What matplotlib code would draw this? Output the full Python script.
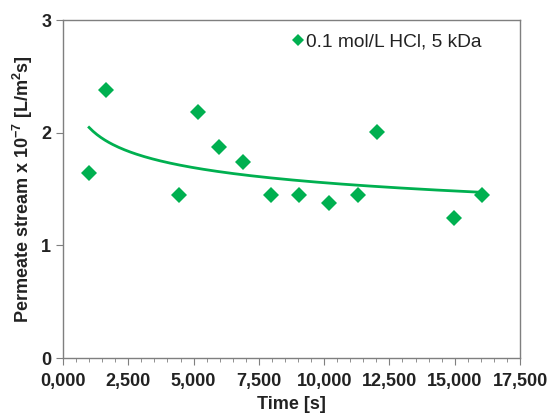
import numpy as np
import matplotlib
matplotlib.use("Agg")
import matplotlib.pyplot as plt
from matplotlib.ticker import MultipleLocator, FuncFormatter

time_s = [1000, 1630, 4460, 5160, 5990, 6880, 7970, 9040, 10200, 11290, 12030, 14960, 16050]
permeate = [1.64, 2.38, 1.45, 2.18, 1.87, 1.74, 1.45, 1.45, 1.38, 1.45, 2.01, 1.24, 1.45]
series_label = "0.1 mol/L HCl, 5 kDa"
green = "#00B050"

plt.rcParams['font.family'] = ['Liberation Sans', 'DejaVu Sans']
plt.rcParams['mathtext.default'] = 'regular'

fig = plt.figure(figsize=(5.5, 4.18), dpi=100)
ax = fig.add_axes([0.1145, 0.1435, 0.831, 0.8085])

x = np.array(time_s, float)
y = np.array(permeate, float)
b, loga = np.polyfit(np.log(x), np.log(y), 1)
xf = np.linspace(x.min(), x.max(), 200)
yf = np.exp(loga) * xf ** b
ax.plot(xf, yf, color=green, lw=2.0, zorder=2)
ax.plot(x, y, 'D', color=green, ms=8.5, mew=0, zorder=3, label=series_label)

ax.set_xlim(0, 17500)
ax.set_ylim(0, 3)
ax.xaxis.set_major_locator(MultipleLocator(2500))
ax.xaxis.set_minor_locator(MultipleLocator(500))
ax.yaxis.set_major_locator(MultipleLocator(1))
ax.xaxis.set_major_formatter(FuncFormatter(lambda v, p: f"{int(v)//1000},{int(v)%1000:03d}"))

for s in ax.spines.values():
    s.set_color('#7f7f7f')
    s.set_linewidth(1.0)
ax.tick_params(axis='both', which='major', direction='out', length=5, color='#7f7f7f', labelsize=13)
ax.tick_params(axis='x', which='major', pad=6)
ax.tick_params(axis='x', which='minor', direction='out', length=3, color='#7f7f7f')
for lab in ax.get_xticklabels() + ax.get_yticklabels():
    lab.set_fontweight('bold')
    lab.set_color('#222222')

ax.set_xlabel("Time [s]", fontsize=13, fontweight='bold', labelpad=4, color='#222222')
ax.set_ylabel("Permeate stream x 10$^{-7}$ [L/m$^{2}$s]", fontsize=13, fontweight='bold',
              labelpad=4, color='#222222')

leg = ax.legend(loc='upper right', bbox_to_anchor=(0.945, 1.0), frameon=False, fontsize=13.8,
                handlelength=0.6, handletextpad=0.1, markerscale=0.7, borderaxespad=0.3)
for t in leg.get_texts():
    t.set_color('#222222')

fig.savefig("out.png", dpi=100)
